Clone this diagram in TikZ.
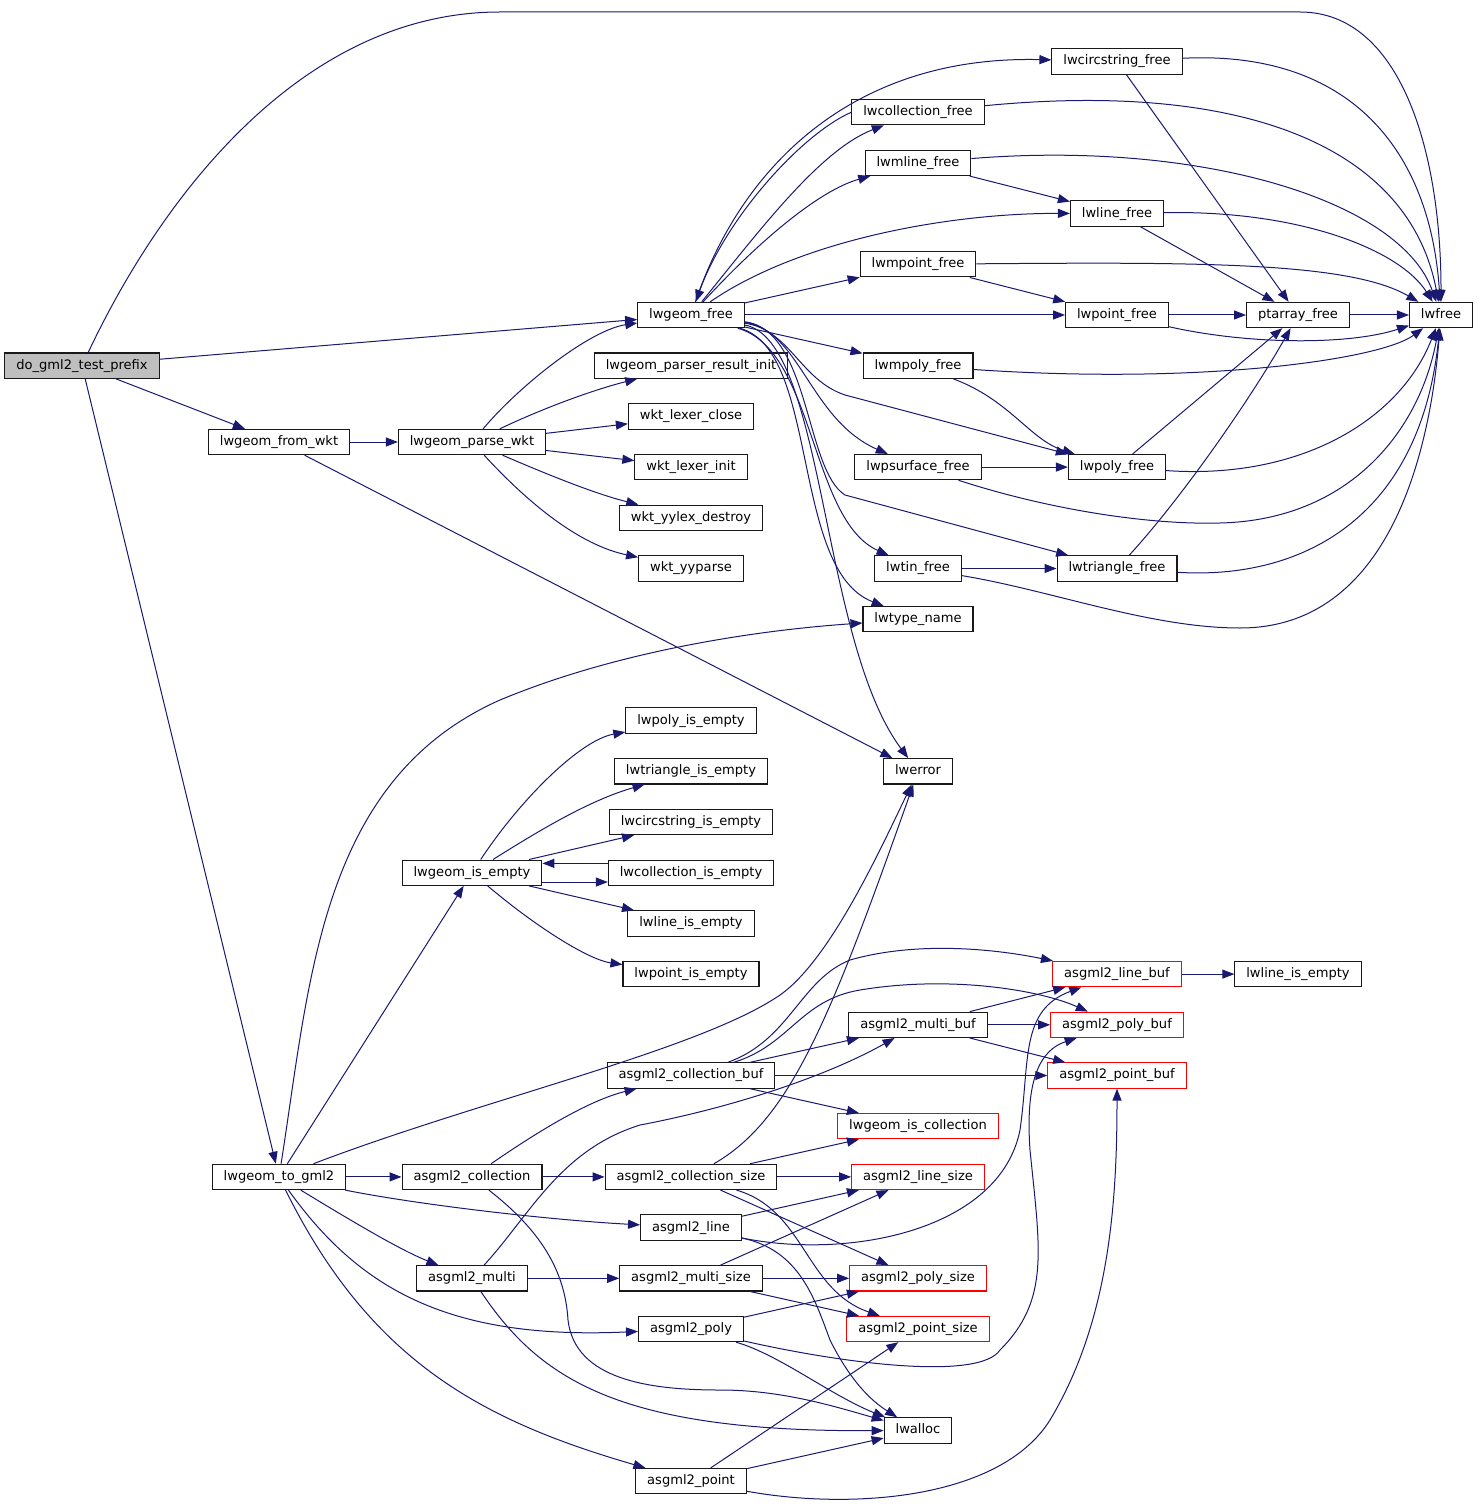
\documentclass[tikz,border=0pt]{standalone}
\usepackage{fontspec}
\setmainfont{DejaVu Sans}
\usetikzlibrary{arrows.meta}
\definecolor{edgeblue}{RGB}{25,25,112}

\begin{document}
\begin{tikzpicture}[
    x=0.75pt, y=-0.75pt,
    box/.style={rectangle, draw=black!90, line width=0.8pt, minimum height=19pt, inner xsep=8.6pt, inner ysep=0pt, text height=7.4pt, text depth=2.2pt, font=\fontsize{9.8}{11}\selectfont},
    redbox/.style={box, draw=red},
    link/.style={draw=edgeblue, line width=0.75pt, -{Triangle[length=9pt,width=6.8pt]}}
]
    \useasboundingbox (0,0) rectangle (1479,1508);

    \node[box, fill=black!25] (prefix) at (82,365.7) {do\_gml2\_test\_prefix};
    \node[box] (fromwkt) at (279,442) {lwgeom\_from\_wkt};
    \node[box] (parsewkt) at (472,442) {lwgeom\_parse\_wkt};
    \node[box] (gfree) at (691,315) {lwgeom\_free};
    \node[box] (pinit) at (691,365.7) {lwgeom\_parser\_result\_init};
    \node[box] (lclose) at (691,416.4) {wkt\_lexer\_close};
    \node[box] (linit) at (691,467.1) {wkt\_lexer\_init};
    \node[box] (ydestroy) at (691,517.8) {wkt\_yylex\_destroy};
    \node[box] (yparse) at (691,568.5) {wkt\_yyparse};

    \node[box] (circfree) at (1117,61.5) {lwcircstring\_free};
    \node[box] (collfree) at (918,112.2) {lwcollection\_free};
    \node[box] (mlinefree) at (918,162.9) {lwmline\_free};
    \node[box] (linefree) at (1117,213.6) {lwline\_free};
    \node[box] (mpointfree) at (918,264.3) {lwmpoint\_free};
    \node[box] (pointfree) at (1117,315) {lwpoint\_free};
    \node[box] (ptafree) at (1298,315) {ptarray\_free};
    \node[box] (lwfree) at (1441,315) {lwfree};
    \node[box] (mpolyfree) at (918,365.7) {lwmpoly\_free};
    \node[box] (psurffree) at (918,467.1) {lwpsurface\_free};
    \node[box] (polyfree) at (1117,467.1) {lwpoly\_free};
    \node[box] (tinfree) at (918,568.5) {lwtin\_free};
    \node[box] (trifree) at (1117,568.5) {lwtriangle\_free};
    \node[box] (typename) at (918,619.2) {lwtype\_name};
    \node[box] (lwerror) at (918,771.3) {lwerror};

    \node[box] (gempty) at (472,872.7) {lwgeom\_is\_empty};
    \node[box] (polyempty) at (691,720.6) {lwpoly\_is\_empty};
    \node[box] (triempty) at (691,771.3) {lwtriangle\_is\_empty};
    \node[box] (circempty) at (691,822) {lwcircstring\_is\_empty};
    \node[box] (collempty) at (691,872.7) {lwcollection\_is\_empty};
    \node[box] (lineempty) at (691,923.4) {lwline\_is\_empty};
    \node[box] (pointempty) at (691,974.1) {lwpoint\_is\_empty};

    \node[redbox] (linebuf) at (1117,974.1) {asgml2\_line\_buf};
    \node[box] (lineempty2) at (1298,974.1) {lwline\_is\_empty};
    \node[box] (multibuf) at (918,1024.8) {asgml2\_multi\_buf};
    \node[redbox] (polybuf) at (1117,1024.8) {asgml2\_poly\_buf};
    \node[redbox] (pointbuf) at (1117,1075.5) {asgml2\_point\_buf};
    \node[box] (collbuf) at (691,1075.5) {asgml2\_collection\_buf};
    \node[redbox] (iscoll) at (918,1126.2) {lwgeom\_is\_collection};

    \node[box] (togml) at (279,1176.9) {lwgeom\_to\_gml2};
    \node[box] (coll) at (472,1176.9) {asgml2\_collection};
    \node[box] (collsize) at (691,1176.9) {asgml2\_collection\_size};
    \node[redbox] (linesize) at (918,1176.9) {asgml2\_line\_size};
    \node[box] (line) at (691,1227.6) {asgml2\_line};
    \node[box] (multi) at (472,1278.3) {asgml2\_multi};
    \node[box] (multisize) at (691,1278.3) {asgml2\_multi\_size};
    \node[redbox] (polysize) at (918,1278.3) {asgml2\_poly\_size};
    \node[box] (poly) at (691,1329) {asgml2\_poly};
    \node[redbox] (pointsize) at (918,1329) {asgml2\_point\_size};
    \node[box] (lwalloc) at (918,1430.4) {lwalloc};
    \node[box] (point) at (691,1481.1) {asgml2\_point};

    \draw[link] (prefix) .. controls (160,200) and (300,12) .. (500,12) -- (1300,12) .. controls (1400,12) and (1441,150) .. (lwfree);
    \draw[link] (prefix) -- (gfree);
    \draw[link] (prefix) -- (fromwkt);
    \draw[link] (prefix) -- (togml);
    \draw[link] (fromwkt) -- (parsewkt);
    \draw[link] (fromwkt) -- (lwerror);
    \draw[link] (parsewkt) .. controls (520,385) and (590,330) .. (gfree);
    \draw[link] (parsewkt) .. controls (550,405) and (600,388) .. (pinit);
    \draw[link] (parsewkt) -- (lclose);
    \draw[link] (parsewkt) -- (linit);
    \draw[link] (parsewkt) .. controls (560,480) and (600,495) .. (ydestroy);
    \draw[link] (parsewkt) .. controls (530,505) and (580,545) .. (yparse);

    \draw[link] (gfree) .. controls (740,170) and (850,55) .. (circfree);
    \draw[link] (collfree.west) .. controls (800,135) and (725,220) .. (gfree);
    \draw[link] (gfree) .. controls (760,230) and (820,150) .. (collfree);
    \draw[link] (gfree) .. controls (760,240) and (820,190) .. (mlinefree);
    \draw[link] (gfree) .. controls (800,240) and (950,213) .. (linefree);
    \draw[link] (gfree) -- (mpointfree);
    \draw[link] (gfree) -- (pointfree);
    \draw[link] (gfree) -- (mpolyfree);
    \draw[link] (gfree) .. controls (790,330) and (800,380) .. (845,395) -- (polyfree);
    \draw[link] (gfree) .. controls (800,330) and (810,420) .. (psurffree);
    \draw[link] (gfree) .. controls (810,330) and (805,470) .. (845,495) -- (trifree);
    \draw[link] (gfree) .. controls (815,350) and (810,520) .. (tinfree);
    \draw[link] (gfree) .. controls (820,350) and (790,570) .. (typename);
    \draw[link] (gfree) .. controls (825,340) and (820,640) .. (lwerror);

    \draw[link] (circfree) -- (ptafree);
    \draw[link] (circfree) .. controls (1350,50) and (1430,150) .. (lwfree);
    \draw[link] (collfree) .. controls (1250,80) and (1410,150) .. (lwfree);
    \draw[link] (mlinefree) .. controls (1200,140) and (1400,200) .. (lwfree);
    \draw[link] (mlinefree) -- (linefree);
    \draw[link] (linefree) -- (ptafree);
    \draw[link] (linefree) .. controls (1300,210) and (1400,250) .. (lwfree);
    \draw[link] (mpointfree) .. controls (1200,262) and (1350,262) .. (lwfree);
    \draw[link] (mpointfree) -- (pointfree);
    \draw[link] (pointfree) -- (ptafree);
    \draw[link] (pointfree) .. controls (1250,345) and (1350,345) .. (lwfree);
    \draw[link] (ptafree) -- (lwfree);
    \draw[link] (mpolyfree) .. controls (1200,385) and (1380,360) .. (lwfree);
    \draw[link] (mpolyfree) .. controls (1010,400) and (1030,440) .. (polyfree);
    \draw[link] (psurffree) -- (polyfree);
    \draw[link] (psurffree) .. controls (1050,510) and (1150,525) .. (1220,523) .. controls (1350,520) and (1420,430) .. (lwfree);
    \draw[link] (polyfree) -- (ptafree);
    \draw[link] (polyfree) .. controls (1300,480) and (1400,420) .. (lwfree);
    \draw[link] (tinfree) -- (trifree);
    \draw[link] (tinfree) .. controls (1050,590) and (1150,628) .. (1240,628) .. controls (1390,628) and (1430,450) .. (lwfree);
    \draw[link] (trifree) .. controls (1180,500) and (1250,400) .. (ptafree);
    \draw[link] (trifree) .. controls (1300,580) and (1420,520) .. (lwfree);

    \draw[link] (togml) .. controls (310,980) and (320,780) .. (500,700) .. controls (620,650) and (760,630) .. (typename);
    \draw[link] (togml) -- (gempty);
    \draw[link] (togml) .. controls (480,1100) and (700,1050) .. (780,995) .. controls (830,960) and (880,850) .. (lwerror);
    \draw[link] (togml) -- (coll);
    \draw[link] (togml) .. controls (420,1205) and (550,1220) .. (line);
    \draw[link] (togml) .. controls (350,1220) and (400,1250) .. (multi);
    \draw[link] (togml) .. controls (360,1290) and (450,1340) .. (poly);
    \draw[link] (togml) .. controls (370,1360) and (480,1420) .. (point);

    \draw[link] (gempty) .. controls (520,800) and (580,740) .. (polyempty);
    \draw[link] (gempty) .. controls (540,830) and (590,800) .. (triempty);
    \draw[link] (gempty) -- (circempty);
    \draw[link] ([yshift=-7pt]gempty.east) -- ([yshift=-7pt]collempty.west);
    \draw[link] ([yshift=7pt]collempty.west) -- ([yshift=7pt]gempty.east);
    \draw[link] (gempty) -- (lineempty);
    \draw[link] (gempty) .. controls (540,930) and (590,960) .. (pointempty);

    \draw[link] (coll) .. controls (540,1130) and (590,1100) .. (collbuf);
    \draw[link] (coll) -- (collsize);
    \draw[link] (coll) .. controls (540,1230) and (565,1270) .. (568,1320) .. controls (575,1380) and (650,1390) .. (720,1390) .. controls (780,1390) and (830,1405) .. (lwalloc);
    \draw[link] (multi) .. controls (530,1215) and (560,1150) .. (640,1125) .. controls (720,1110) and (820,1080) .. (multibuf);
    \draw[link] (multi) -- (multisize);
    \draw[link] (multi) .. controls (540,1380) and (620,1432) .. (lwalloc);

    \draw[link] (collbuf) .. controls (790,1040) and (800,980) .. (850,960) .. controls (920,940) and (1000,950) .. (linebuf);
    \draw[link] (collbuf) .. controls (790,1045) and (800,1000) .. (860,990) .. controls (950,975) and (1040,990) .. (polybuf);
    \draw[link] (collbuf) -- (multibuf);
    \draw[link] (collbuf) -- (pointbuf);
    \draw[link] (collbuf) -- (iscoll);
    \draw[link] (collsize) -- (iscoll);
    \draw[link] (collsize) -- (linesize);
    \draw[link] (collsize) -- (polysize);
    \draw[link] (collsize) .. controls (805,1210) and (805,1290) .. (pointsize);
    \draw[link] (collsize) .. controls (790,1120) and (830,1020) .. (lwerror);

    \draw[link] (multibuf) -- (linebuf);
    \draw[link] (multibuf) -- (polybuf);
    \draw[link] (multibuf) -- (pointbuf);
    \draw[link] (linebuf) -- (lineempty2);

    \draw[link] (line) -- (linesize);
    \draw[link] (line) .. controls (850,1260) and (1000,1230) .. (1020,1130) .. controls (1030,1060) and (1020,1010) .. (linebuf);
    \draw[link] (line) .. controls (800,1250) and (815,1300) .. (830,1340) .. controls (850,1380) and (870,1400) .. (lwalloc);
    \draw[link] (multisize) -- (linesize);
    \draw[link] (multisize) -- (polysize);
    \draw[link] (multisize) -- (pointsize);
    \draw[link] (poly) -- (polysize);
    \draw[link] (poly) .. controls (850,1365) and (980,1380) .. (1000,1350) .. controls (1050,1300) and (1040,1250) .. (1030,1150) .. controls (1025,1080) and (1040,1050) .. (polybuf);
    \draw[link] (poly) .. controls (780,1355) and (830,1395) .. (lwalloc);
    \draw[link] (point) -- (pointsize);
    \draw[link] (point) -- (lwalloc);
    \draw[link] (point) .. controls (850,1510) and (1000,1500) .. (1050,1420) .. controls (1110,1320) and (1117,1200) .. (pointbuf);
\end{tikzpicture}
\end{document}
